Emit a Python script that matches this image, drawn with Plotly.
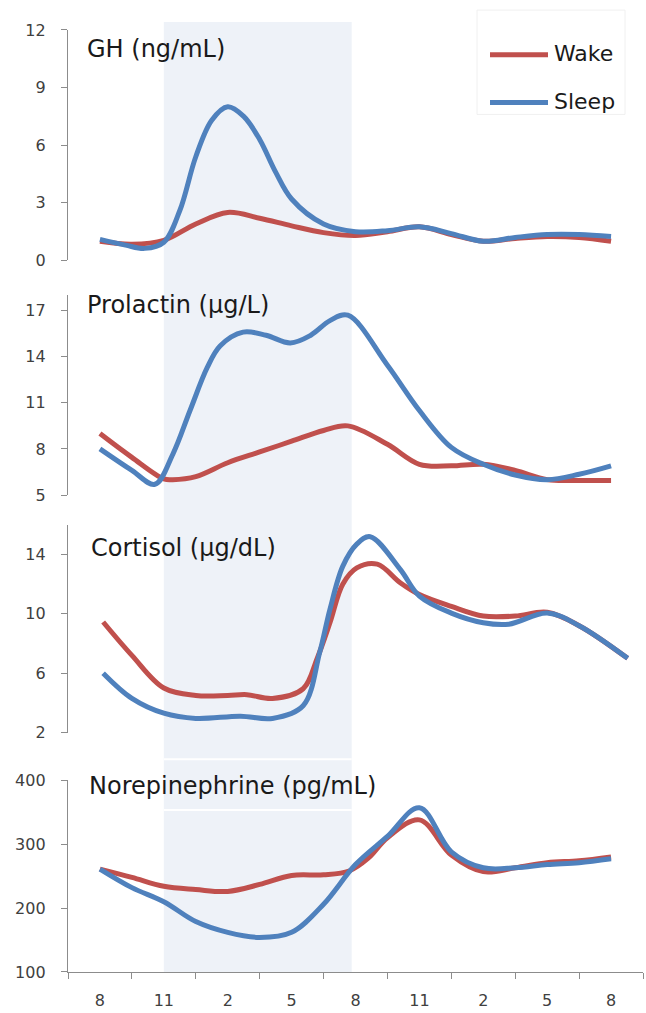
import plotly.graph_objects as go
from plotly.subplots import make_subplots

# ---------------- data ----------------
x_labels = ["8", "11", "2", "5", "8", "11", "2", "5", "8"]
x_cats = [0, 1, 2, 3, 4, 5, 6, 7, 8]

gh_wake_x = [0, 0.5, 1, 1.5, 2, 2.5, 3, 3.5, 4, 4.5, 5, 5.5, 6, 6.5, 7, 7.5, 8]
gh_wake_y = [1.0, 0.85, 1.05, 1.9, 2.5, 2.2, 1.8, 1.45, 1.3, 1.5, 1.75, 1.35, 1.0, 1.15, 1.25, 1.2, 1.0]
gh_sleep_x = [0, 0.4, 0.7, 1.0, 1.25, 1.5, 1.75, 2.0, 2.25, 2.5, 2.75, 3.0, 3.5, 4, 4.5, 5, 5.5, 6, 6.5, 7, 7.5, 8]
gh_sleep_y = [1.1, 0.8, 0.63, 0.95, 2.6, 5.4, 7.3, 8.0, 7.5, 6.3, 4.6, 3.2, 1.9, 1.5, 1.55, 1.75, 1.4, 1.0, 1.2, 1.35, 1.35, 1.25]

prl_wake_x = [0, 0.5, 1.0, 1.14, 1.5, 2.0, 2.5, 3.0, 3.5, 3.88, 4.5, 5.0, 5.5, 6.0, 6.5, 7.0, 7.5, 8.0]
prl_wake_y = [9.0, 7.45, 6.05, 6.0, 6.2, 7.1, 7.8, 8.5, 9.2, 9.5, 8.3, 7.0, 6.9, 7.0, 6.6, 6.0, 5.95, 5.95]
prl_sleep_x = [0, 0.5, 0.86, 1.14, 1.41, 1.68, 1.88, 2.24, 2.6, 2.98, 3.3, 3.6, 3.88, 4.5, 5.0, 5.5, 6.0, 6.5, 7.0, 7.5, 8.0]
prl_sleep_y = [8.0, 6.6, 5.7, 7.65, 10.5, 13.3, 14.7, 15.6, 15.4, 14.9, 15.4, 16.35, 16.7, 13.45, 10.5, 8.1, 7.0, 6.3, 6.0, 6.35, 6.9]

cor_wake_x = [0.05, 0.5, 1.0, 1.5, 2.0, 2.3, 2.7, 3.18, 3.4, 3.6, 3.8, 4.02, 4.34, 4.7, 5.0, 5.5, 6.0, 6.5, 7.0, 7.5, 8.26]
cor_wake_y = [9.45, 7.2, 5.0, 4.5, 4.5, 4.55, 4.3, 4.95, 7.0, 9.4, 12.0, 13.1, 13.35, 12.1, 11.3, 10.5, 9.85, 9.85, 10.1, 9.2, 7.0]
cor_sleep_x = [0.05, 0.5, 1.0, 1.5, 2.2, 2.7, 3.18, 3.44, 3.6, 3.8, 4.02, 4.23, 4.7, 5.0, 5.5, 6.0, 6.4, 7.0, 7.5, 8.26]
cor_sleep_y = [6.0, 4.3, 3.3, 2.95, 3.1, 2.95, 3.8, 7.4, 10.3, 13.2, 14.7, 15.2, 13.0, 11.2, 10.05, 9.4, 9.3, 10.05, 9.2, 7.0]

ne_wake_x = [0, 0.5, 1, 1.5, 2, 2.5, 3, 3.5, 3.9, 4.2, 4.5, 5, 5.5, 6, 6.5, 7, 7.5, 8]
ne_wake_y = [261, 248, 234, 229, 226, 237, 251, 252, 258, 278, 310, 338, 283, 257, 263, 271, 274, 280]
ne_sleep_x = [0, 0.5, 1, 1.5, 2, 2.5, 3, 3.5, 4, 4.5, 5, 5.5, 6, 6.5, 7, 7.5, 8]
ne_sleep_y = [261, 232, 210, 179, 162, 154, 162, 206, 268, 312, 357, 288, 263, 263, 268, 271, 277]

panel_titles = ["GH (ng/mL)", "Prolactin (µg/L)", "Cortisol (µg/dL)", "Norepinephrine (pg/mL)"]
y_ranges = [[0, 12], [5, 18], [2, 16], [100, 400]]
y_ticks = [[0, 3, 6, 9, 12], [5, 8, 11, 14, 17], [2, 6, 10, 14], [100, 200, 300, 400]]
sleep_span = [1.0, 3.94]
series_names = ["Wake", "Sleep"]

# ---------------- style ----------------
RED = "#c0504d"
BLUE = "#4f81bd"
AX = "#8c8c8c"
FONT = "DejaVu Sans"
W, H = 646, 1013
ML, MR, MT, MB = 68, 3, 20, 35
PH = H - MT - MB
PW = W - ML - MR


def py(px):  # pixel y -> paper y
    return (H - MB - px) / PH


def pxx(px):  # pixel x -> paper x
    return (px - ML) / PW


panel_px = [(30, 262), (297, 498), (528, 737), (785, 978)]
domains = [[py(b), py(t)] for t, b in panel_px]

fig = make_subplots(rows=4, cols=1, shared_xaxes=True)

data = [
    (gh_wake_x, gh_wake_y, gh_sleep_x, gh_sleep_y),
    (prl_wake_x, prl_wake_y, prl_sleep_x, prl_sleep_y),
    (cor_wake_x, cor_wake_y, cor_sleep_x, cor_sleep_y),
    (ne_wake_x, ne_wake_y, ne_sleep_x, ne_sleep_y),
]

for i, (wx, wy, sx, sy) in enumerate(data):
    r = i + 1
    fig.add_trace(go.Scatter(x=wx, y=wy, mode="lines", name=series_names[0],
                             line=dict(color=RED, width=5, shape="spline", smoothing=1.0),
                             showlegend=False), row=r, col=1)
    fig.add_trace(go.Scatter(x=sx, y=sy, mode="lines", name=series_names[1],
                             line=dict(color=BLUE, width=5, shape="spline", smoothing=1.0),
                             showlegend=False), row=r, col=1)
    fig.update_yaxes(domain=domains[i], range=y_ranges[i], tickvals=y_ticks[i],
                     showline=True, linecolor=AX, linewidth=1.3, ticks="outside",
                     ticklen=6, tickcolor=AX, tickwidth=1.3, showgrid=False, zeroline=False,
                     ticklabelstandoff=12,
                     tickfont=dict(family=FONT, size=16, color="#404040"),
                     row=r, col=1)
    if r < 4:
        fig.update_xaxes(range=[-0.5, 8.5], showline=False, showticklabels=False,
                         ticks="", showgrid=False, zeroline=False, row=r, col=1)

fig.update_xaxes(range=[-0.5, 8.5], tickmode="array", tickvals=x_cats, ticktext=x_labels,
                 showline=True, linecolor=AX, linewidth=1.3, ticks="", showgrid=False,
                 zeroline=False, ticklabelstandoff=14,
                 tickfont=dict(family=FONT, size=16, color="#404040"),
                 minor=dict(tickvals=[c - 0.5 for c in x_cats] + [8.5], ticks="outside",
                            ticklen=6, tickcolor=AX, tickwidth=1.3, showgrid=False),
                 row=4, col=1)

shapes = [
    dict(type="rect", xref="x4", yref="paper", x0=sleep_span[0], x1=sleep_span[1],
         y0=0, y1=py(22), fillcolor="#eef2f8", line=dict(width=0), layer="below"),
    dict(type="line", xref="x4", yref="paper", x0=sleep_span[0], x1=sleep_span[1],
         y0=py(764), y1=py(764), line=dict(color="white", width=2), layer="below"),
    dict(type="line", xref="x4", yref="paper", x0=sleep_span[0], x1=sleep_span[1],
         y0=py(815), y1=py(815), line=dict(color="white", width=2), layer="below"),
    # legend box
    dict(type="rect", xref="paper", yref="paper", x0=pxx(477), x1=pxx(625),
         y0=py(115), y1=py(10), fillcolor="white", line=dict(color="#f0f0f0", width=1)),
    dict(type="line", xref="paper", yref="paper", x0=pxx(490), x1=pxx(548),
         y0=py(55), y1=py(55), line=dict(color=RED, width=5)),
    dict(type="line", xref="paper", yref="paper", x0=pxx(490), x1=pxx(548),
         y0=py(103), y1=py(103), line=dict(color=BLUE, width=5)),
]

title_pos = [(85, 49), (85, 307), (89, 551), (87, 791)]
annotations = []
for t, (tx, ty) in zip(panel_titles, title_pos):
    annotations.append(dict(text=t, xref="paper", yref="paper", x=pxx(tx), y=py(ty),
                            xanchor="left", yanchor="middle", showarrow=False,
                            font=dict(family=FONT, size=24, color="#1a1a1a")))
for name, ly in zip(series_names, [54, 102]):
    annotations.append(dict(text=name, xref="paper", yref="paper", x=pxx(552), y=py(ly),
                            xanchor="left", yanchor="middle", showarrow=False,
                            font=dict(family=FONT, size=22, color="#1a1a1a")))

fig.update_layout(width=W, height=H, margin=dict(l=ML, r=MR, t=MT, b=MB),
                  paper_bgcolor="white", plot_bgcolor="rgba(0,0,0,0)",
                  shapes=shapes, annotations=annotations, showlegend=False,
                  font=dict(family=FONT))

fig.write_html("out.html", config={"displayModeBar": False},
               post_script="document.body.style.margin='0';document.body.style.overflow='hidden';")
